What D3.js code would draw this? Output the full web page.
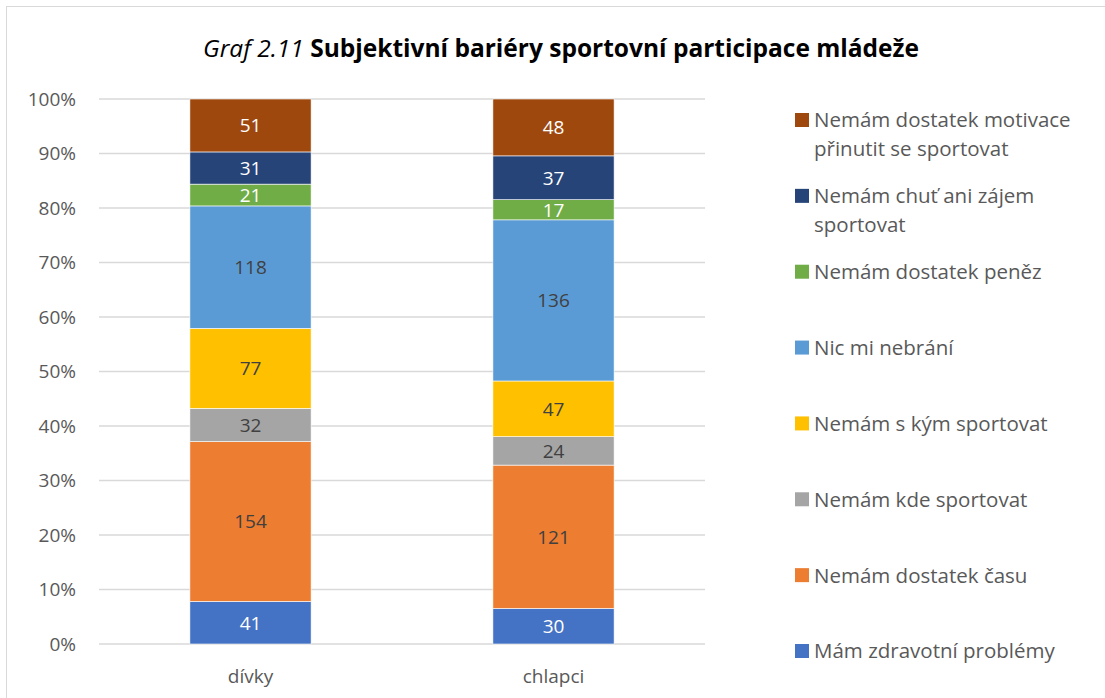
<!DOCTYPE html>
<html>
<head>
<meta charset="utf-8">
<script src="https://cdn.jsdelivr.net/npm/d3@7"></script>
<style>
  body { margin: 0; background: #fff; }
  text { font-family: "Open Sans", "Noto Sans", sans-serif; }
</style>
</head>
<body>
<script>
const groups = ["dívky", "chlapci"];
const seriesNames = [
  "Mám zdravotní problémy",
  "Nemám dostatek času",
  "Nemám kde sportovat",
  "Nemám s kým sportovat",
  "Nic mi nebrání",
  "Nemám dostatek peněz",
  "Nemám chuť ani zájem sportovat",
  "Nemám dostatek motivace přinutit se sportovat"
];
const divkyValues = [41, 154, 32, 77, 118, 21, 31, 51];
const chlapciValues = [30, 121, 24, 47, 136, 17, 37, 48];
const colors = ["#4472C4", "#ED7D31", "#A5A5A5", "#FFC000", "#5B9BD5", "#70AD47", "#264478", "#9E480E"];
const labelColors = ["#fff", "#404040", "#404040", "#404040", "#404040", "#fff", "#fff", "#fff"];
const legendLines = [
  ["Mám zdravotní problémy"],
  ["Nemám dostatek času"],
  ["Nemám kde sportovat"],
  ["Nemám s kým sportovat"],
  ["Nic mi nebrání"],
  ["Nemám dostatek peněz"],
  ["Nemám chuť ani zájem", "sportovat"],
  ["Nemám dostatek motivace", "přinutit se sportovat"]
];
const yTicks = [0, 0.1, 0.2, 0.3, 0.4, 0.5, 0.6, 0.7, 0.8, 0.9, 1];

let width = 1105, height = 698;
let svg = d3.select("body").append("svg")
  .attr("width", width)
  .attr("height", height);

svg.append("rect")
  .attr("x", 6.5).attr("y", 6.5)
  .attr("width", width).attr("height", height)
  .attr("fill", "#fff")
  .attr("stroke", "#d9d9d9");

// title
let title = svg.append("text")
  .attr("x", 561).attr("y", 57)
  .attr("text-anchor", "middle")
  .attr("font-size", 24.5)
  .attr("fill", "#000");
title.append("tspan").attr("font-style", "italic").text("Graf 2.11 ");
title.append("tspan").attr("font-weight", "bold").text("Subjektivní bariéry sportovní participace mládeže");

let x = d3.scaleBand().domain(groups).range([99, 705]).paddingInner(0.6).paddingOuter(0.3);
let y = d3.scaleLinear().domain([0, 1]).range([644, 99]);

// gridlines
svg.append("g").selectAll("line").data(yTicks).enter().append("line")
  .attr("x1", 99).attr("x2", 705)
  .attr("y1", d => y(d)).attr("y2", d => y(d))
  .attr("stroke", "#d9d9d9").attr("stroke-width", 1.3);

svg.append("g").selectAll("text").data(yTicks).enter().append("text")
  .attr("x", 76).attr("y", d => y(d))
  .attr("dy", ".35em")
  .attr("text-anchor", "end")
  .attr("font-size", 19)
  .attr("fill", "#595959")
  .text(d => Math.round(d * 100) + "%");

svg.append("g").selectAll("text").data(groups).enter().append("text")
  .attr("x", d => x(d) + x.bandwidth() / 2).attr("y", 676)
  .attr("dy", ".35em")
  .attr("text-anchor", "middle")
  .attr("font-size", 19)
  .attr("fill", "#595959")
  .text(d => d);

// stacked bars
let rows = groups.map((g, gi) => {
  let vals = gi === 0 ? divkyValues : chlapciValues;
  let row = { group: g };
  seriesNames.forEach((s, i) => { row[s] = vals[i]; });
  return row;
});
let stack = d3.stack().keys(seriesNames).offset(d3.stackOffsetExpand);
let stacked = stack(rows);

stacked.forEach((layer, li) => {
  let g = svg.append("g");
  g.selectAll("rect").data(layer).enter().append("rect")
    .attr("x", d => x(d.data.group))
    .attr("width", x.bandwidth())
    .attr("y", d => y(d[1]))
    .attr("height", d => y(d[0]) - y(d[1]))
    .attr("fill", colors[li])
    .attr("stroke", "#fff")
    .attr("stroke-width", 0.6);
  g.selectAll("text").data(layer).enter().append("text")
    .attr("x", d => x(d.data.group) + x.bandwidth() / 2)
    .attr("y", d => (y(d[0]) + y(d[1])) / 2)
    .attr("dy", ".36em")
    .attr("text-anchor", "middle")
    .attr("font-size", 19)
    .attr("fill", labelColors[li])
    .text(d => d.data[layer.key]);
});

// legend
let legendY = d3.scalePoint().domain(d3.range(8)).range([651, 120]);
let legend = svg.append("g").selectAll("g").data(legendLines).enter().append("g")
  .attr("transform", (d, i) => `translate(795, ${legendY(i)})`);
legend.append("rect")
  .attr("x", 0).attr("y", -7)
  .attr("width", 14).attr("height", 14)
  .attr("fill", (d, i) => colors[i]);
legend.each(function(lines) {
  let t = d3.select(this).append("text")
    .attr("x", 19)
    .attr("font-size", 20.5)
    .attr("fill", "#595959");
  lines.forEach((l, k) => {
    t.append("tspan").attr("x", 19).attr("y", k * 29).attr("dy", ".36em").text(l);
  });
});
</script>
</body>
</html>
